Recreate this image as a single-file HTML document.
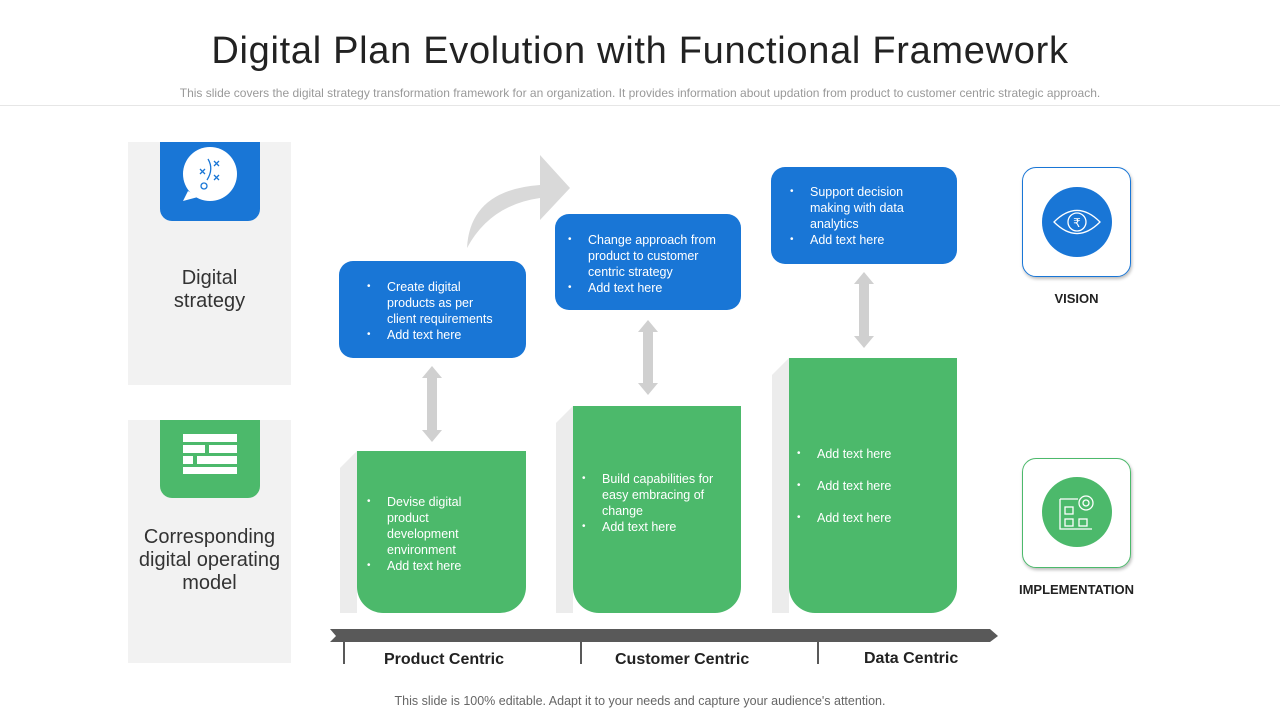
<!DOCTYPE html>
<html><head><meta charset="utf-8"><style>
body{margin:0;width:1280px;height:720px;background:#fff;font-family:"Liberation Sans",sans-serif;position:relative;overflow:hidden}
.a{position:absolute}
.blue{background:#1976d6;border-radius:14px;color:#fff;font-size:12.5px;line-height:16px}
.green{background:#4cb96b;border-radius:0 0 26px 26px;color:#fff;font-size:12.5px;line-height:16px}
ul{margin:0;padding-left:48px}
li{list-style:none;position:relative}
li:before{content:"•";position:absolute;left:-20px;font-size:10px}
.lbl{font-weight:bold;font-size:16px;color:#222}
</style></head><body>
<div class="a" style="left:0;width:1280px;top:30px;text-align:center;font-size:38px;color:#222;letter-spacing:0.7px">Digital Plan Evolution with Functional Framework</div>
<div class="a" style="left:0;width:1280px;top:86px;text-align:center;font-size:12px;color:#999">This slide covers the digital strategy transformation framework for an organization. It provides information about updation from product to customer centric strategic approach.</div>
<div class="a" style="left:0;width:1280px;top:105px;height:1px;background:#e6e6e6"></div>

<div class="a" style="left:128px;top:142px;width:163px;height:243px;background:#f2f2f2"></div>
<div class="a" style="left:160px;top:142px;width:100px;height:79px;background:#1976d6;border-radius:0 0 12px 12px"></div>
<svg class="a" style="left:180px;top:147px" width="60" height="60"><circle cx="30" cy="27" r="27" fill="#fff"/><path d="M8 44 L3 54 L18 50Z" fill="#fff"/><g stroke="#1976d6" stroke-width="1.3" fill="none"><path d="M20 22l5 5M25 22l-5 5M34 14l5 5M39 14l-5 5M34 28l5 5M39 28l-5 5"/><circle cx="24" cy="39" r="3"/><path d="M28 12 Q34 22 27 33"/></g></svg>
<div class="a" style="left:128px;width:163px;top:267px;text-align:center;font-size:20px;line-height:23px;color:#333">Digital<br>strategy</div>

<div class="a" style="left:128px;top:420px;width:163px;height:243px;background:#f2f2f2"></div>
<div class="a" style="left:160px;top:420px;width:100px;height:78px;background:#4cb96b;border-radius:0 0 12px 12px"></div>
<svg class="a" style="left:183px;top:434px" width="54" height="40"><g fill="#fff"><rect x="0" y="0" width="54" height="8"/><rect x="0" y="11" width="22" height="8"/><rect x="26" y="11" width="28" height="8"/><rect x="0" y="22" width="10" height="8"/><rect x="14" y="22" width="40" height="8"/><rect x="0" y="33" width="54" height="7"/></g></svg>
<div class="a" style="left:128px;width:163px;top:526px;text-align:center;font-size:20px;line-height:23px;color:#333">Corresponding digital operating model</div>

<svg class="a" style="left:0;top:0" width="1280" height="720">
<path d="M467 248 Q470 190 540 185 L540 155 L570 188 L540 220 L540 198 Q490 205 467 248Z" fill="#d9d9d9"/>
<g fill="#d0d0d0">
<path d="M422 378 L432 366 L442 378 L437 378 L437 430 L442 430 L432 442 L422 430 L427 430 L427 378Z"/>
<path d="M638 332 L648 320 L658 332 L653 332 L653 383 L658 383 L648 395 L638 383 L643 383 L643 332Z"/>
<path d="M854 284 L864 272 L874 284 L869 284 L869 336 L874 336 L864 348 L854 336 L859 336 L859 284Z"/>
</g>
<g fill="#ececec">
<path d="M357 451 L340 468 L340 613 L357 613Z"/>
<path d="M573 406 L556 423 L556 613 L573 613Z"/>
<path d="M789 358 L772 375 L772 613 L789 613Z"/>
</g>
<path d="M330 629 L990 629 L998 636 L990 642 L330 642 L336 636Z" fill="#595959"/>
<g fill="#595959"><rect x="343" y="642" width="2" height="22"/><rect x="580" y="642" width="2" height="22"/><rect x="817" y="642" width="2" height="22"/></g>
</svg>

<div class="a blue" style="left:339px;top:261px;width:187px;height:97px"><ul style="margin-top:18px;width:118px"><li>Create digital products as per client requirements</li><li>Add text here</li></ul></div>
<div class="a blue" style="left:555px;top:214px;width:186px;height:96px"><ul style="margin-top:18px;padding-left:33px;width:140px"><li>Change approach from product to customer centric strategy</li><li>Add text here</li></ul></div>
<div class="a blue" style="left:771px;top:167px;width:186px;height:97px"><ul style="margin-top:17px;padding-left:39px;width:105px"><li>Support decision making with data analytics</li><li>Add text here</li></ul></div>

<div class="a green" style="left:357px;top:451px;width:169px;height:162px"><ul style="margin-top:43px;padding-left:30px;width:110px"><li>Devise digital product development environment</li><li>Add text here</li></ul></div>
<div class="a green" style="left:573px;top:406px;width:168px;height:207px"><ul style="margin-top:65px;padding-left:29px;width:112px"><li>Build capabilities for easy embracing of change</li><li>Add text here</li></ul></div>
<div class="a green" style="left:789px;top:358px;width:168px;height:255px"><ul style="margin-top:80px;padding-left:28px;line-height:32px"><li>Add text here</li><li>Add text here</li><li>Add text here</li></ul></div>

<div class="a lbl" style="left:384px;top:651px">Product Centric</div>
<div class="a lbl" style="left:615px;top:651px">Customer Centric</div>
<div class="a lbl" style="left:864px;top:650px">Data Centric</div>

<div class="a" style="left:1022px;top:167px;width:107px;height:108px;border:1px solid #1976d6;border-radius:14px;box-shadow:1px 2px 3px #bbb"></div>
<svg class="a" style="left:1042px;top:187px" width="70" height="70"><circle cx="35" cy="35" r="35" fill="#1976d6"/><g stroke="#fff" fill="none" stroke-width="1.3"><path d="M12 35 Q35 12 58 35 Q35 58 12 35Z"/><circle cx="35" cy="35" r="9"/></g><text x="35" y="40" font-size="12" fill="#fff" text-anchor="middle" font-family="DejaVu Sans">₹</text></svg>
<div class="a" style="left:1022px;width:109px;top:291px;text-align:center;font-weight:bold;font-size:13px;color:#222">VISION</div>

<div class="a" style="left:1022px;top:458px;width:107px;height:108px;border:1px solid #4cb96b;border-radius:14px;box-shadow:1px 2px 3px #bbb"></div>
<svg class="a" style="left:1042px;top:477px" width="70" height="70"><circle cx="35" cy="35" r="35" fill="#4cb96b"/><g stroke="#fff" fill="none" stroke-width="1.3"><path d="M18 22 L18 52 L50 52 M18 22 L36 22"/><rect x="23" y="30" width="8" height="7"/><rect x="23" y="42" width="8" height="7"/><rect x="37" y="42" width="8" height="7"/><circle cx="44" cy="26" r="7"/><circle cx="44" cy="26" r="3"/></g></svg>
<div class="a" style="left:1010px;width:133px;top:582px;text-align:center;font-weight:bold;font-size:13px;color:#222">IMPLEMENTATION</div>

<div class="a" style="left:0;width:1280px;top:694px;text-align:center;font-size:12.5px;color:#666">This slide is 100% editable. Adapt it to your needs and capture your audience's attention.</div>
</body></html>
